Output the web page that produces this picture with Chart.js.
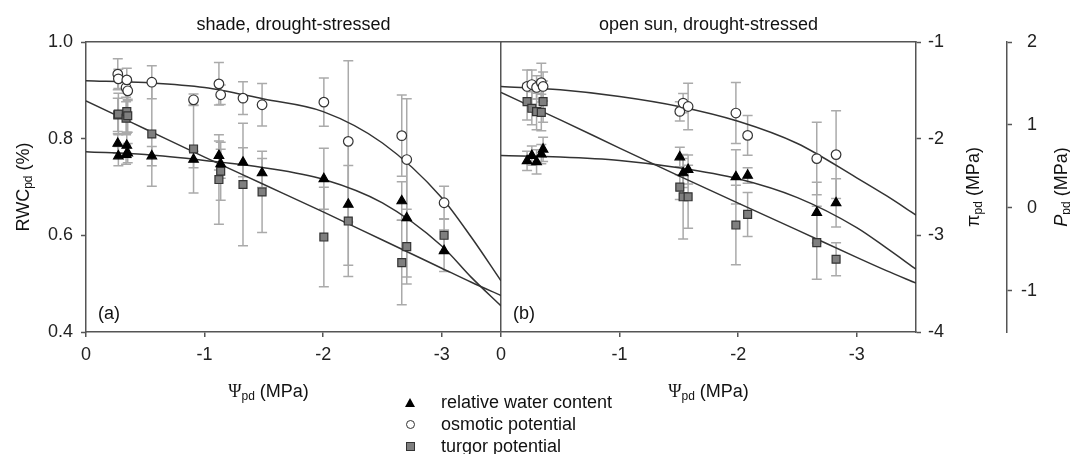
<!DOCTYPE html>
<html lang="en">
<head>
<meta charset="UTF-8">
<title>Leaf water relations, drought-stressed plants</title>
<script src="https://cdn.jsdelivr.net/npm/chart.js@4.4.1/dist/chart.umd.min.js"></script>
<style>
  body { margin: 0; background: #fff; }
  #wrap { position: relative; width: 1070px; height: 454px; }
  #legend { position: absolute; left: 400px; top: 391px; font: 18px 'Liberation Sans', Arial, sans-serif; color: #111; }
  #legend .row { height: 22px; line-height: 22px; white-space: nowrap; display: flex; align-items: center; }
  #legend .box { width: 20px; flex: none; display: flex; justify-content: center; margin-right: 21px; }
  .tri { flex: none; width: 0; height: 0; border-left: 5px solid transparent; border-right: 5px solid transparent; border-bottom: 9px solid #000; }
  .circ { flex: none; box-sizing: border-box; width: 9px; height: 9px; border: 1.3px solid #333; border-radius: 50%; background: #fff; }
  .sq { flex: none; box-sizing: border-box; width: 9px; height: 9px; border: 1px solid #333; background: #7f7f7f; }
</style>
</head>
<body>
<div id="wrap">
  <canvas id="chart"></canvas>
  <div id="legend"></div>
</div>
<script>
// shade, drought-stressed: predawn water potential of each leaf sample (MPa)
const psiShade = [-0.268, -0.273, -0.338, -0.344, -0.352, -0.555, -0.907, -1.121, -1.136, -1.324, -1.485, -2.006, -2.212, -2.663, -2.705, -3.02];
const rwcShade = [0.79, 0.764, 0.767, 0.786, 0.77, 0.764, 0.757, 0.765, 0.748, 0.751, 0.729, 0.717, 0.664, 0.671, 0.636, 0.568];
const rwcShadeErr = [0.02, 0.02, 0.02, 0.025, 0.02, 0.02, 0.017, 0.03, 0.03, 0.03, 0.03, 0.063, 0.126, 0.04, 0.122, 0.043];
const piShade = [-1.333, -1.381, -1.471, -1.392, -1.505, -1.416, -1.598, -1.433, -1.546, -1.581, -1.649, -1.622, -2.028, -1.969, -2.216, -2.663];
const piShadeErr = [0.16, 0.1, 0.1, 0.12, 0.1, 0.17, 0.06, 0.22, 0.1, 0.17, 0.22, 0.25, 0.835, 0.42, 0.63, 0.17];
const pShade = [1.12, 1.13, 1.08, 1.16, 1.11, 0.89, 0.709, 0.34, 0.44, 0.28, 0.19, -0.354, -0.161, -0.662, -0.47, -0.333];
const pShadeErr = [0.2, 0.25, 0.2, 0.25, 0.2, 0.63, 0.53, 0.54, 0.35, 0.74, 0.49, 0.6, 0.67, 0.51, 0.45, 0.2];

// open sun, drought-stressed
const psiSun = [-0.22, -0.26, -0.3, -0.34, -0.355, -1.508, -1.536, -1.578, -1.981, -2.08, -2.663, -2.826];
const rwcSun = [0.754, 0.765, 0.752, 0.768, 0.778, 0.762, 0.729, 0.736, 0.721, 0.724, 0.647, 0.667];
const rwcSunErr = [0.02, 0.02, 0.025, 0.02, 0.025, 0.02, 0.03, 0.03, 0.056, 0.016, 0.063, 0.05];
const piSun = [-1.46, -1.44, -1.47, -1.42, -1.46, -1.718, -1.632, -1.667, -1.735, -1.966, -2.206, -2.165];
const piSunErr = [0.17, 0.15, 0.12, 0.2, 0.15, 0.1, 0.1, 0.24, 0.316, 0.206, 0.375, 0.454];
const pSun = [1.28, 1.2, 1.16, 1.15, 1.28, 0.248, 0.132, 0.132, -0.209, -0.081, -0.422, -0.622];
const pSunErr = [0.22, 0.2, 0.22, 0.22, 0.25, 0.15, 0.51, 0.38, 0.48, 0.265, 0.44, 0.2];

// fitted curves, read at fixed water potentials
const fitPsi = [0, -0.5, -1, -1.5, -2, -2.5, -3, -3.25, -3.5];
const rwcFitShade = [0.773, 0.767, 0.755, 0.74, 0.716, 0.667, 0.578, 0.513, 0.454];
const piFitShade = [-1.4, -1.42, -1.47, -1.59, -1.72, -2.045, -2.61, -3.02, -3.47];
const pFitShade = [1.29, 0.95, 0.61, 0.28, -0.05, -0.39, -0.73, -0.9, -1.06];
const rwcFitSun = [0.765, 0.762, 0.755, 0.74, 0.717, 0.678, 0.616, 0.574, 0.53];
const piFitSun = [-1.46, -1.495, -1.564, -1.667, -1.82, -2.05, -2.405, -2.59, -2.79];
const pFitSun = [1.39, 1.06, 0.72, 0.385, 0.055, -0.27, -0.6, -0.76, -0.91];

const seriesNames = ['relative water content', 'osmotic potential', 'turgor potential'];
const panelTitles = ['shade, drought-stressed', 'open sun, drought-stressed'];
const panelLetters = ['(a)', '(b)'];

const family = "'Liberation Sans', Arial, sans-serif";
const axisColor = '#555';

const markerStyle = {
  rwc: { pointStyle: 'triangle', radius: 5.5, bg: '#000', border: '#000' },
  pi: { pointStyle: 'circle', radius: 4.8, bg: '#fff', border: '#333' },
  p: { pointStyle: 'rect', radius: 5.6, bg: '#7f7f7f', border: '#333' }
};

function markers(label, xs, ys, errs, kind, xAxisID, yAxisID) {
  const s = markerStyle[kind];
  return {
    label,
    data: xs.map((x, i) => ({ x, y: ys[i] })),
    errors: errs,
    xAxisID, yAxisID,
    showLine: false,
    pointStyle: s.pointStyle,
    pointRadius: s.radius,
    pointBackgroundColor: s.bg,
    pointBorderColor: s.border,
    pointBorderWidth: 1.2
  };
}

function curve(ys, xAxisID, yAxisID) {
  return {
    data: fitPsi.map((x, i) => ({ x, y: ys[i] })),
    xAxisID, yAxisID,
    showLine: true,
    pointRadius: 0,
    borderColor: '#333',
    borderWidth: 1.5,
    cubicInterpolationMode: 'monotone'
  };
}

// vertical error bars with caps, drawn under the markers
const errorBars = {
  id: 'errorBars',
  beforeDatasetsDraw(chart) {
    const ctx = chart.ctx;
    ctx.save();
    ctx.strokeStyle = '#aaa';
    ctx.lineWidth = 1.5;
    chart.data.datasets.forEach((ds, i) => {
      if (!ds.errors) return;
      const meta = chart.getDatasetMeta(i);
      const xs = chart.scales[meta.xAxisID];
      const ys = chart.scales[meta.yAxisID];
      ds.data.forEach((pt, j) => {
        const x = xs.getPixelForValue(pt.x);
        const top = ys.getPixelForValue(pt.y + ds.errors[j]);
        const bot = ys.getPixelForValue(pt.y - ds.errors[j]);
        ctx.beginPath();
        ctx.moveTo(x, top); ctx.lineTo(x, bot);
        ctx.moveTo(x - 5, top); ctx.lineTo(x + 5, top);
        ctx.moveTo(x - 5, bot); ctx.lineTo(x + 5, bot);
        ctx.stroke();
      });
    });
    ctx.restore();
  }
};

// text pieces: [text, 'sub' | 'it' | 'serif']
function drawRich(ctx, parts, x, y, angle) {
  const fontOf = p => {
    if (p[1] === 'sub') return '12px ' + family;
    if (p[1] === 'it') return 'italic 18px ' + family;
    if (p[1] === 'serif') return "18px 'Liberation Serif', serif";
    return '18px ' + family;
  };
  ctx.save();
  ctx.translate(x, y);
  ctx.rotate(angle);
  ctx.fillStyle = '#111';
  ctx.textBaseline = 'alphabetic';
  ctx.textAlign = 'left';
  let w = 0;
  parts.forEach(p => { ctx.font = fontOf(p); w += ctx.measureText(p[0]).width; });
  let cx = -w / 2;
  parts.forEach(p => {
    ctx.font = fontOf(p);
    ctx.fillText(p[0], cx, p[1] === 'sub' ? 10 : 6.5);
    cx += ctx.measureText(p[0]).width;
  });
  ctx.restore();
}

const rwcTitle = [['RWC'], ['pd', 'sub'], [' (%)']];
const piTitle = [['π'], ['pd', 'sub'], [' (MPa)']];
const pTitle = [['P', 'it'], ['pd', 'sub'], [' (MPa)']];
const psiTitle = [['Ψ', 'serif'], ['pd', 'sub'], [' (MPa)']];

const labels = {
  id: 'labels',
  afterDraw(chart) {
    const ctx = chart.ctx;
    const s = chart.scales;
    const area = chart.chartArea;
    const midY = (area.top + area.bottom) / 2;
    const midA = (s.xa.left + s.xa.right) / 2;
    const midB = (s.xb.left + s.xb.right) / 2;
    drawRich(ctx, rwcTitle, s.y.left + 22, midY, -Math.PI / 2);
    drawRich(ctx, piTitle, s.pi.left + 56, midY, -Math.PI / 2);
    drawRich(ctx, pTitle, s.p.right + 23, midY, -Math.PI / 2);
    drawRich(ctx, psiTitle, midA - 25, s.xa.top + 58, 0);
    drawRich(ctx, psiTitle, midB, s.xb.top + 58, 0);
    drawRich(ctx, [[panelTitles[0]]], midA, area.top - 19, 0);
    drawRich(ctx, [[panelTitles[1]]], midB, area.top - 19, 0);
    ctx.save();
    ctx.font = '18px ' + family;
    ctx.fillStyle = '#111';
    ctx.textBaseline = 'middle';
    ctx.fillText(panelLetters[0], s.xa.left + 12, area.bottom - 18);
    ctx.fillText(panelLetters[1], s.xb.left + 12, area.bottom - 18);
    ctx.restore();
  }
};

const tickFont = { family, size: 18 };

function psiAxis(position, stack, drawDivider) {
  const bottom = position === 'bottom';
  return {
    type: 'linear', position, stack, min: -3.5, max: 0, reverse: true,
    ticks: { display: bottom, stepSize: 1, includeBounds: false, padding: 7, color: '#222', font: tickFont, maxRotation: 0 },
    grid: {
      display: bottom,
      drawOnChartArea: drawDivider,
      color: c => (c.tick && c.tick.value === 0) ? axisColor : 'rgba(0,0,0,0)',
      lineWidth: 1.5,
      tickLength: 5, tickColor: axisColor, tickWidth: 1.5
    },
    border: { color: axisColor, width: 1.5 },
    afterFit: sc => { sc.height = bottom ? 70 : 42; }
  };
}

function valueAxis(position, min, max, step, width, extra) {
  return Object.assign({
    type: 'linear', position, min, max,
    ticks: { stepSize: step, includeBounds: false, padding: 7, color: '#222', font: tickFont },
    grid: { drawOnChartArea: false, tickLength: 5, tickColor: axisColor, tickWidth: 1.5 },
    border: { color: axisColor, width: 1.5 },
    afterFit: sc => { sc.width = width; }
  }, extra || {});
}

const datasets = [
  markers(seriesNames[0], psiShade, rwcShade, rwcShadeErr, 'rwc', 'xa', 'y'),
  markers(seriesNames[1], psiShade, piShade, piShadeErr, 'pi', 'xa', 'pi'),
  markers(seriesNames[2], psiShade, pShade, pShadeErr, 'p', 'xa', 'p'),
  markers(seriesNames[0], psiSun, rwcSun, rwcSunErr, 'rwc', 'xb', 'y'),
  markers(seriesNames[1], psiSun, piSun, piSunErr, 'pi', 'xb', 'pi'),
  markers(seriesNames[2], psiSun, pSun, pSunErr, 'p', 'xb', 'p'),
  curve(rwcFitShade, 'xa', 'y'),
  curve(piFitShade, 'xa', 'pi'),
  curve(pFitShade, 'xa', 'p'),
  curve(rwcFitSun, 'xb', 'y'),
  curve(piFitSun, 'xb', 'pi'),
  curve(pFitSun, 'xb', 'p')
];

Chart.defaults.font.family = family;

new Chart(document.getElementById('chart'), {
  type: 'scatter',
  data: { datasets },
  options: {
    responsive: true,
    maintainAspectRatio: false,
    animation: false,
    layout: { padding: { left: 0, top: 0, right: 33, bottom: 52 } },
    plugins: { legend: { display: false }, tooltip: { enabled: false } },
    scales: {
      xa: psiAxis('bottom', 'psi', false),
      xb: psiAxis('bottom', 'psi', true),
      ta: psiAxis('top', 'top', false),
      tb: psiAxis('top', 'top', false),
      y: valueAxis('left', 0.4, 1.0, 0.2, 86, {
        ticks: { stepSize: 0.2, padding: 8, color: '#222', font: tickFont, callback: v => v.toFixed(1) }
      }),
      pi: valueAxis('right', -4, -1, 1, 91),
      p: valueAxis('right', -1.5, 2, 1, 30, {
        ticks: { stepSize: 1, includeBounds: false, padding: 7, color: '#222', font: tickFont, crossAlign: 'far' }
      })
    }
  },
  plugins: [errorBars, labels]
});

// legend rows built from the series names
const shapes = ['tri', 'circ', 'sq'];
document.getElementById('legend').innerHTML = seriesNames.map((name, i) =>
  '<div class="row"><span class="box"><span class="' + shapes[i] + '"></span></span>' + name + '</div>'
).join('');
</script>
</body>
</html>
